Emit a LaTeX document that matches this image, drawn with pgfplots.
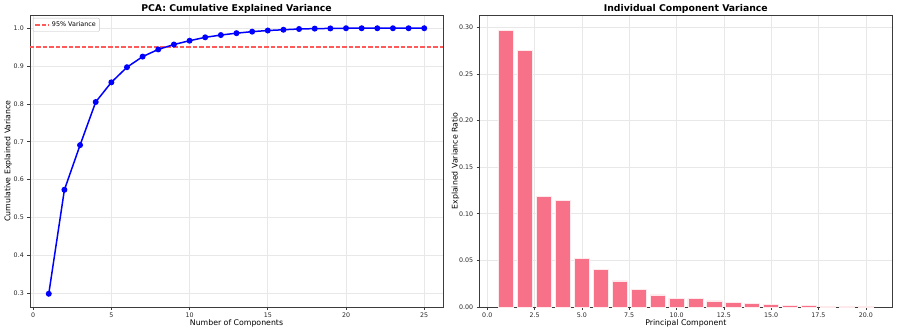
\documentclass[border=0pt]{standalone}
\usepackage{pgfplots}
\pgfplotsset{compat=1.18}
\usepackage{fontspec}
\setmainfont{DejaVu Sans}

\definecolor{gridc}{RGB}{232,232,232}
\definecolor{framec}{RGB}{60,60,60}
\definecolor{barc}{RGB}{247,113,137}
\definecolor{refred}{RGB}{255,90,90}

\pgfplotsset{
    base/.style={
        scale only axis,
        width=413pt, height=292pt,
        grid=major,
        grid style={gridc, line width=0.6pt},
        axis line style={framec, line width=0.8pt},
        tick align=outside,
        major tick length=2.7pt,
        tick style={framec, line width=0.6pt},
        xtick pos=lower, ytick pos=left,
        ticklabel style={font=\fontsize{6.3}{7}\selectfont, text=black!85},
        /pgf/number format/assume math mode=true,
        label style={font=\fontsize{7.8}{9}\selectfont},
        xlabel style={at={(axis description cs:0.5,-0.057)}, anchor=center},
        ylabel style={at={(axis description cs:-0.053,0.5)}, anchor=center},
        % default title yshift of 6pt still applies
        title style={font=\fontsize{9.3}{11}\selectfont\bfseries,
                     at={(axis description cs:0.5,1)}, anchor=center},
    },
    refleg/.style={legend image code/.code={\draw[##1] (0pt,0pt) -- (14pt,0pt);}},
}

\begin{document}
\begin{tikzpicture}
    % Links: kumulierte Varianz
    \begin{axis}[
        base,
        title={PCA: Cumulative Explained Variance},
        xlabel={Number of Components},
        ylabel={Cumulative Explained Variance},
        xmin=-0.2, xmax=26.2,
        ymin=0.263, ymax=1.035,
        xtick={0,5,...,25},
        ytick={0.3,0.4,...,1.0},
        yticklabel style={/pgf/number format/.cd, fixed, fixed zerofill, precision=1},
        legend cell align=left,
        legend style={
            at={(axis description cs:0.007,0.99)}, anchor=north west,
            font=\fontsize{6.4}{7.5}\selectfont,
            draw=black!25, rounded corners=1pt,
            inner sep=1.5pt
        },
    ]
    \addplot[draw=refred, mark=none, line width=1.4pt,
             dash pattern=on 4.5pt off 2pt, refleg]
        coordinates {(-0.2,0.95) (26.2,0.95)};
    \addlegendentry{95\% Variance}

    \addplot[color=blue, line width=1.5pt, mark=*, mark size=2.2pt, forget plot]
        coordinates {
        (1,0.298) (2,0.573) (3,0.691) (4,0.805) (5,0.857)
        (6,0.897) (7,0.925) (8,0.944) (9,0.957) (10,0.967)
        (11,0.976) (12,0.982) (13,0.987) (14,0.991) (15,0.994)
        (16,0.996) (17,0.998) (18,0.999) (19,0.9995) (20,1.0)
        (21,1.0) (22,1.0) (23,1.0) (24,1.0) (25,1.0)
        };
    \end{axis}

    % Rechts: Einzelkomponenten
    \begin{axis}[
        base,
        xshift=449.3pt,
        title={Individual Component Variance},
        xlabel={Principal Component},
        ylabel={Explained Variance Ratio},
        xmin=-0.42, xmax=21.4,
        ymin=0, ymax=0.3132,
        xtick={0,2.5,...,20},
        ytick={0,0.05,...,0.3},
        xticklabel style={/pgf/number format/.cd, fixed, fixed zerofill, precision=1},
        yticklabel style={/pgf/number format/.cd, fixed, fixed zerofill, precision=2},
        ylabel style={at={(axis description cs:-0.058,0.5)}},
    ]
    \addplot[ybar, bar width=0.8, fill=barc, draw=white!85!barc, line width=0.7pt]
        coordinates {
        (1,0.297) (2,0.275) (3,0.119) (4,0.114) (5,0.052)
        (6,0.040) (7,0.028) (8,0.019) (9,0.013) (10,0.0095)
        (11,0.009) (12,0.0065) (13,0.0048) (14,0.0037) (15,0.0027)
        (16,0.0020) (17,0.0016) (18,0.0010) (19,0.0005) (20,0.0003)
        };
    \end{axis}

    \pgfresetboundingbox
    \path (-30pt,-26pt) rectangle (867pt,307pt);
\end{tikzpicture}
\end{document}
